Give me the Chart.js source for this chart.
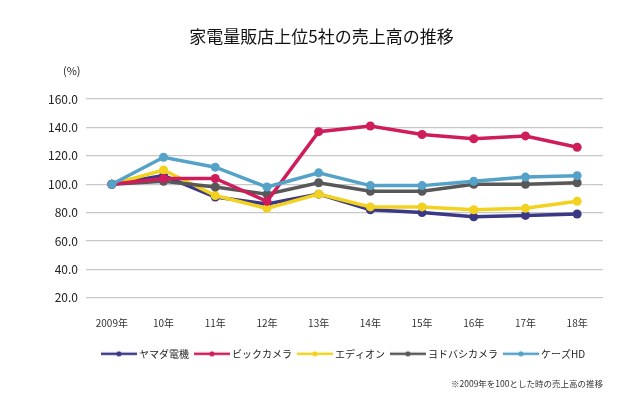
<!DOCTYPE html>
<html><head><meta charset="utf-8">
<script src="https://cdn.jsdelivr.net/npm/chart.js@4"></script>
<style>html,body{margin:0;padding:0;background:#fff;}#wrap{width:640px;height:397px;position:relative;}</style>
</head><body>
<div id="wrap"><canvas id="c" width="640" height="397"></canvas></div>
<script>
const years = ['2009年','10年','11年','12年','13年','14年','15年','16年','17年','18年'];
const yamada = [100, 106, 91, 86, 93, 82, 80, 77, 78, 79];
const bic = [100, 104, 104, 88, 137, 141, 135, 132, 134, 126];
const edion = [100, 110, 92, 83, 93, 84, 84, 82, 83, 88];
const yodobashi = [100, 102, 98, 93, 101, 95, 95, 100, 100, 101];
const ks = [100, 119, 112, 98, 108, 99, 99, 102, 105, 106];
const seriesNames = ['ヤマダ電機','ビックカメラ','エディオン','ヨドバシカメラ','ケーズHD'];
const colors = ['#3b3886','#cf1c5b','#f3d21f','#585858','#55a2c8'];
const drawOrder = [4, 1, 3, 2, 0];
const FONT = '"Noto Sans CJK JP", "Noto Sans", sans-serif';

function legendIcon(color){
  const cv = document.createElement('canvas');
  cv.width = 36; cv.height = 8;
  const x = cv.getContext('2d');
  x.strokeStyle = color; x.lineWidth = 2.5;
  x.beginPath(); x.moveTo(0,4); x.lineTo(36,4); x.stroke();
  x.fillStyle = color; x.beginPath(); x.arc(18,4,2.6,0,Math.PI*2); x.fill();
  return cv;
}

const allData = [yamada, bic, edion, yodobashi, ks];
const datasets = allData.map((d,i)=>({
  label: seriesNames[i], data: d,
  borderColor: colors[i], backgroundColor: colors[i],
  pointBackgroundColor: colors[i], pointBorderColor: colors[i],
  borderWidth: 3.5, pointRadius: 4.5, pointBorderWidth: 0, pointHoverRadius: 4.5,
  pointStyle: 'circle', tension: 0, order: drawOrder[i]
}));
const legendIcons = colors.map(legendIcon);

const percentLabel = {
  id: 'percentLabel',
  afterDraw(chart){
    const ctx = chart.ctx;
    ctx.save();
    ctx.font = '11px ' + FONT;
    ctx.fillStyle = '#222';
    ctx.textAlign = 'left'; ctx.textBaseline = 'middle';
    ctx.fillText('(%)', 63, 71);
    ctx.restore();
  }
};

new Chart(document.getElementById('c'), {
  type: 'line',
  data: { labels: years, datasets },
  plugins: [percentLabel],
  options: {
    responsive: false, animation: false,
    layout: { padding: { left: 40, right: 37, top: 0, bottom: 0 } },
    plugins: {
      title: { display: true, text: '家電量販店上位5社の売上高の推移', color: '#111',
        font: { family: FONT, size: 17, weight: 'normal' }, padding: { top: 26, bottom: 52.6 } },
      subtitle: { display: true, position: 'bottom', align: 'end', text: '※2009年を100とした時の売上高の推移',
        color: '#333', font: { family: FONT, size: 8.5 }, padding: { top: 10, bottom: 8 } },
      legend: { position: 'bottom', fullSize: false,
        labels: { usePointStyle: true, pointStyleWidth: 30, padding: 8, color: '#222',
          font: { family: FONT, size: 10 },
          generateLabels(chart){
            return chart.data.datasets.map((ds,i)=>({
              text: ds.label, fillStyle: ds.borderColor, strokeStyle: ds.borderColor,
              lineWidth: 0, pointStyle: legendIcons[i], datasetIndex: i, hidden: false, fontColor: '#222'
            }));
          }
        } },
      tooltip: { enabled: false }
    },
    scales: {
      x: { offset: true, grid: { display: false, drawTicks: false }, border: { display: false },
        afterFit(s){ s.height -= 7; },
        ticks: { padding: 19, color: '#333', font: { family: FONT, size: 10 } } },
      y: { min: 20, max: 160, afterFit(s){ s.width = 46; },
        grid: { color: '#c8c8c8', lineWidth: 1.3, drawTicks: false }, border: { display: false },
        ticks: { stepSize: 20, padding: 8, color: '#222', font: { family: FONT, size: 12 },
          callback: v => v.toFixed(1) } }
    }
  }
});
</script>
</body></html>
